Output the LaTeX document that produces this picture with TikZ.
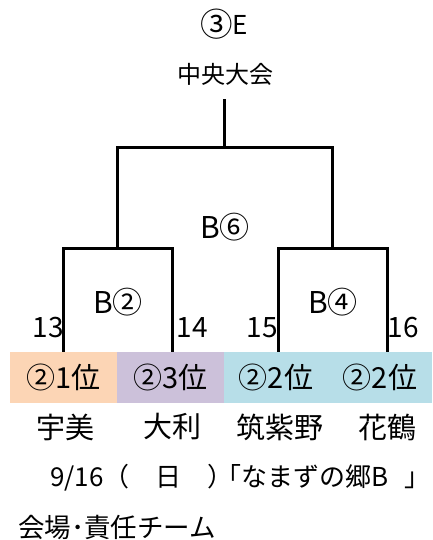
\documentclass[tikz,border=0pt]{standalone}
\usepackage{fontspec}
\setmainfont{Noto Sans CJK JP}
\definecolor{peach}{HTML}{FCD5B5}
\definecolor{lilac}{HTML}{CCC1DA}
\definecolor{paleblue}{HTML}{B7DEE8}
\newcommand{\largecircled}[1]{\raisebox{-2pt}{\scalebox{1.25}{#1}}}
\tikzset{
    bracket/.style={line width=3pt},
    roundlbl/.style={font=\fontsize{30}{34}\selectfont,inner sep=0},
    seedlbl/.style={font=\fontsize{28}{32}\selectfont,inner sep=0},
    cell/.style={inner sep=0,minimum height=51pt,font=\fontsize{29}{33}\selectfont},
    teamlbl/.style={font=\fontsize{29}{33}\selectfont,inner sep=0},
    notelbl/.style={anchor=west,inner sep=0,font=\fontsize{26}{30}\selectfont}
}

\begin{document}
\begin{tikzpicture}[x=1pt,y=1pt]
    \useasboundingbox(0,0)rectangle(432,540);
    % header
    \node[inner sep=0,font=\fontsize{26}{30}\selectfont](title)at(224,516){\largecircled{③}E};
    \node[inner sep=0,font=\fontsize{24}{28}\selectfont](final)at(225,466){中央大会};
    % colour band with seeds
    \node[cell,fill=peach,minimum width=107pt](c1)at(63.5,162.5){②1位};
    \node[cell,fill=lilac,minimum width=107pt](c2)at(170.5,162.5){②3位};
    \node[cell,fill=paleblue,minimum width=104pt](c3)at(276,162.5){②2位};
    \node[cell,fill=paleblue,minimum width=104pt](c4)at(380,162.5){②2位};
    % bracket points
    \coordinate(l1)at(63,188);
    \coordinate(l2)at(172,188);
    \coordinate(l3)at(278,188);
    \coordinate(l4)at(387,188);
    \coordinate(m1)at(117,291);
    \coordinate(m2)at(332,291);
    \coordinate(top)at(224,392);
    \coordinate(win)at(224,441);
    \draw[bracket](l1)|-(m1)-|(l2);
    \draw[bracket](l3)|-(m2)-|(l4);
    \draw[bracket](m1)|-(top)-|(m2);
    \draw[bracket](top)--(win);
    % match labels
    \node[roundlbl](g6)at(225,313){B⑥};
    \node[roundlbl](g2)at(118,238){B②};
    \node[roundlbl](g4)at(333,238){B④};
    \node[seedlbl](n13)at(48,212){13};
    \node[seedlbl](n14)at(192,212){14};
    \node[seedlbl](n15)at(262,212){15};
    \node[seedlbl](n16)at(403,212){16};
    % teams
    \node[teamlbl](t1)at(65,113){宇美};
    \node[teamlbl](t2)at(172,113){大利};
    \node[teamlbl](t3)at(280,113){筑紫野};
    \node[teamlbl](t4)at(387,113){花鶴};
    % venue
    \node[notelbl](date)at(50,62){9/16（　日　）\kern-.7em「なまずの郷B\kern.6em\makebox[.5em][l]{」}};
    \node[notelbl,font=\fontsize{26.5}{30}\selectfont](venue)at(18,13){会場･責任チーム};
\end{tikzpicture}
\end{document}
